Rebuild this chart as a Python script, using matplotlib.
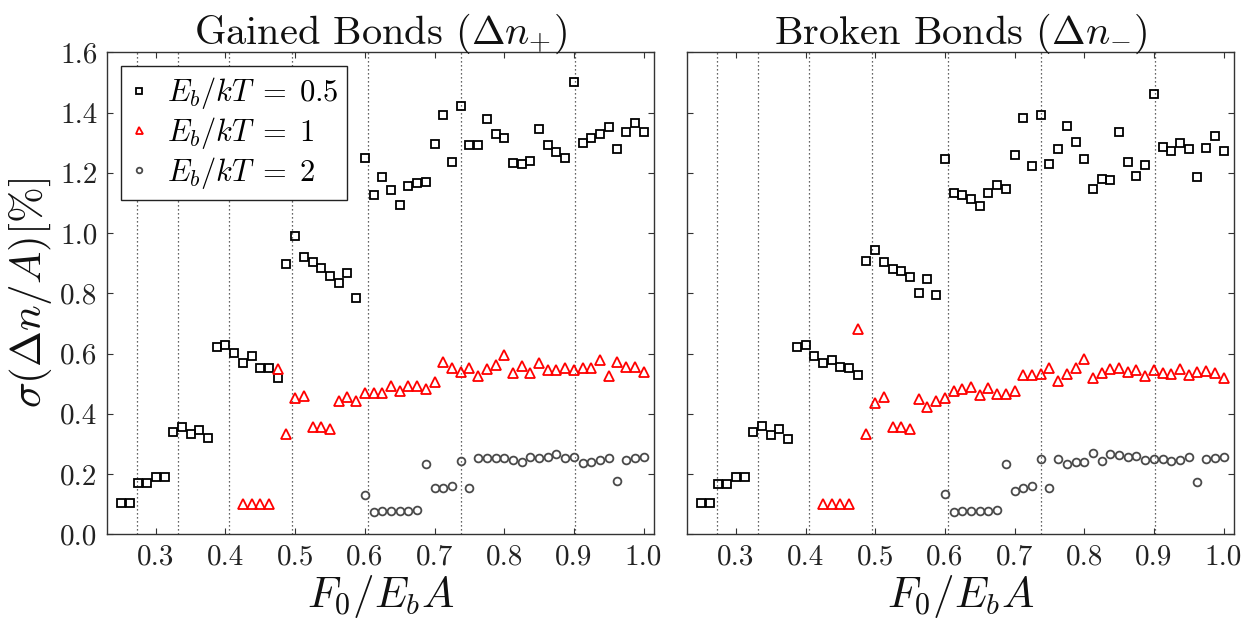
import matplotlib
matplotlib.use("Agg")
import matplotlib.pyplot as plt
from matplotlib.ticker import MultipleLocator, FormatStrFormatter

plt.rcParams['font.family'] = 'serif'
plt.rcParams['font.serif'] = ['cmr10', 'DejaVu Serif']
plt.rcParams['mathtext.fontset'] = 'cm'
plt.rcParams['axes.formatter.use_mathtext'] = True

# ---------------- data ----------------
x_all = [0.25, 0.2625, 0.275, 0.2875, 0.3, 0.3125, 0.325, 0.3375, 0.35, 0.3625,
         0.375, 0.3875, 0.4, 0.4125, 0.425, 0.4375, 0.45, 0.4625, 0.475, 0.4875,
         0.5, 0.5125, 0.525, 0.5375, 0.55, 0.5625, 0.575, 0.5875, 0.6, 0.6125,
         0.625, 0.6375, 0.65, 0.6625, 0.675, 0.6875, 0.7, 0.7125, 0.725, 0.7375,
         0.75, 0.7625, 0.775, 0.7875, 0.8, 0.8125, 0.825, 0.8375, 0.85, 0.8625,
         0.875, 0.8875, 0.9, 0.9125, 0.925, 0.9375, 0.95, 0.9625, 0.975, 0.9875,
         1.0]
x_eb1 = x_all[14:]   # 0.425 .. 1.0
x_eb2 = x_all[28:]   # 0.6 .. 1.0

gained_eb05 = [0.103, 0.103, 0.169, 0.169, 0.191, 0.191, 0.338, 0.357, 0.332, 0.346,
               0.319, 0.623, 0.629, 0.601, 0.570, 0.592, 0.551, 0.551, 0.520, 0.897,
               0.989, 0.919, 0.904, 0.884, 0.856, 0.834, 0.867, 0.784, 1.249, 1.125,
               1.186, 1.144, 1.094, 1.157, 1.166, 1.171, 1.297, 1.392, 1.236, 1.423,
               1.293, 1.293, 1.379, 1.330, 1.316, 1.233, 1.229, 1.238, 1.347, 1.293,
               1.268, 1.249, 1.502, 1.299, 1.316, 1.329, 1.352, 1.279, 1.336, 1.365,
               1.336]
gained_eb1 = [0.10, 0.10, 0.10, 0.10, 0.548, 0.332, 0.452, 0.460, 0.357, 0.357,
              0.349, 0.443, 0.457, 0.443, 0.468, 0.470, 0.468, 0.493, 0.476, 0.493,
              0.493, 0.482, 0.504, 0.573, 0.551, 0.540, 0.553, 0.527, 0.548, 0.562,
              0.596, 0.537, 0.559, 0.535, 0.570, 0.546, 0.546, 0.553, 0.546, 0.551,
              0.551, 0.579, 0.527, 0.573, 0.557, 0.557, 0.540]
gained_eb2 = [0.131, 0.075, 0.078, 0.078, 0.078, 0.078, 0.082, 0.233, 0.155, 0.155,
              0.160, 0.244, 0.153, 0.253, 0.253, 0.253, 0.253, 0.247, 0.239, 0.255,
              0.253, 0.255, 0.266, 0.253, 0.255, 0.236, 0.241, 0.247, 0.253, 0.178,
              0.247, 0.253, 0.255]

broken_eb05 = [0.103, 0.103, 0.167, 0.167, 0.191, 0.191, 0.339, 0.361, 0.328, 0.349,
               0.317, 0.623, 0.629, 0.592, 0.568, 0.577, 0.555, 0.551, 0.529, 0.908,
               0.945, 0.904, 0.881, 0.873, 0.853, 0.801, 0.847, 0.793, 1.247, 1.133,
               1.127, 1.114, 1.091, 1.133, 1.160, 1.147, 1.258, 1.382, 1.224, 1.393,
               1.229, 1.279, 1.354, 1.302, 1.246, 1.147, 1.180, 1.175, 1.334, 1.236,
               1.191, 1.227, 1.462, 1.284, 1.271, 1.299, 1.280, 1.186, 1.282, 1.321,
               1.271]
broken_eb1 = [0.10, 0.10, 0.10, 0.10, 0.682, 0.333, 0.437, 0.457, 0.357, 0.357,
              0.349, 0.449, 0.422, 0.444, 0.454, 0.476, 0.482, 0.488, 0.463, 0.485,
              0.465, 0.465, 0.476, 0.529, 0.529, 0.532, 0.552, 0.509, 0.532, 0.552,
              0.581, 0.518, 0.537, 0.548, 0.552, 0.540, 0.546, 0.524, 0.546, 0.535,
              0.532, 0.548, 0.529, 0.540, 0.543, 0.537, 0.518]
broken_eb2 = [0.134, 0.075, 0.078, 0.078, 0.078, 0.078, 0.082, 0.233, 0.145, 0.153,
              0.160, 0.249, 0.155, 0.250, 0.234, 0.239, 0.241, 0.269, 0.244, 0.267,
              0.263, 0.258, 0.260, 0.247, 0.249, 0.249, 0.244, 0.247, 0.255, 0.175,
              0.250, 0.253, 0.255]

vlines_x = [0.273, 0.332, 0.405, 0.495, 0.604, 0.738, 0.901]

titles = [r'Gained Bonds $(\Delta n_{+})$', r'Broken Bonds $(\Delta n_{-})$']
legend_labels = [r'$E_b/kT\;=\;0.5$', r'$E_b/kT\;=\;1$', r'$E_b/kT\;=\;2$']

# ---------------- figure ----------------
fig = plt.figure(figsize=(12.46, 6.21), dpi=100)
axL = fig.add_axes([0.0859, 0.1396, 0.439, 0.7762])
axR = fig.add_axes([0.5514, 0.1396, 0.439, 0.7762], sharey=axL)

panels = [(axL, gained_eb05, gained_eb1, gained_eb2),
          (axR, broken_eb05, broken_eb1, broken_eb2)]

for i, (ax, s05, s1, s2) in enumerate(panels):
    for xv in vlines_x:
        ax.axvline(xv, color='#333333', linestyle=(0, (1, 2.2)), linewidth=0.9, zorder=1)
    ax.plot(x_all, s05, linestyle='none', marker='s', markersize=6.3,
            markerfacecolor='none', markeredgecolor='black', markeredgewidth=1.3,
            label=legend_labels[0], zorder=3)
    ax.plot(x_eb1, s1, linestyle='none', marker='^', markersize=7.0,
            markerfacecolor='none', markeredgecolor='red', markeredgewidth=1.3,
            label=legend_labels[1], zorder=3)
    ax.plot(x_eb2, s2, linestyle='none', marker='o', markersize=5.6,
            markerfacecolor='none', markeredgecolor='#4a4a4a', markeredgewidth=1.3,
            label=legend_labels[2], zorder=3)

    ax.set_xlim(0.23, 1.015)
    ax.set_ylim(0.0, 1.6)
    ax.xaxis.set_major_locator(MultipleLocator(0.1))
    ax.yaxis.set_major_locator(MultipleLocator(0.2))
    ax.xaxis.set_major_formatter(FormatStrFormatter('%.1f'))
    ax.yaxis.set_major_formatter(FormatStrFormatter('%.1f'))
    ax.tick_params(direction='in', top=True, right=True, length=4.5, width=0.8,
                   colors='#333333', labelcolor='#222222', labelsize=21, pad=7)
    for sp in ax.spines.values():
        sp.set_color('#333333')
        sp.set_linewidth(1.0)
    ax.set_title(titles[i], fontsize=29, pad=6, color='#111111')
    ax.set_xlabel(r'$F_0/E_bA$', fontsize=31, labelpad=2, color='#111111')

plt.setp(axR.get_yticklabels(), visible=False)
axL.set_ylabel(r'$\sigma(\Delta n/A)[\%]$', fontsize=31, labelpad=4, color='#111111')

leg = axL.legend(loc='upper left', numpoints=1, markerscale=0.72, fontsize=22,
                 fancybox=False, framealpha=1, edgecolor='#222222',
                 handlelength=0.6, handletextpad=0.6, borderpad=0.3,
                 labelspacing=0.12, borderaxespad=0.45)
leg.get_frame().set_linewidth(1.0)

fig.savefig('out.png', dpi=100)
